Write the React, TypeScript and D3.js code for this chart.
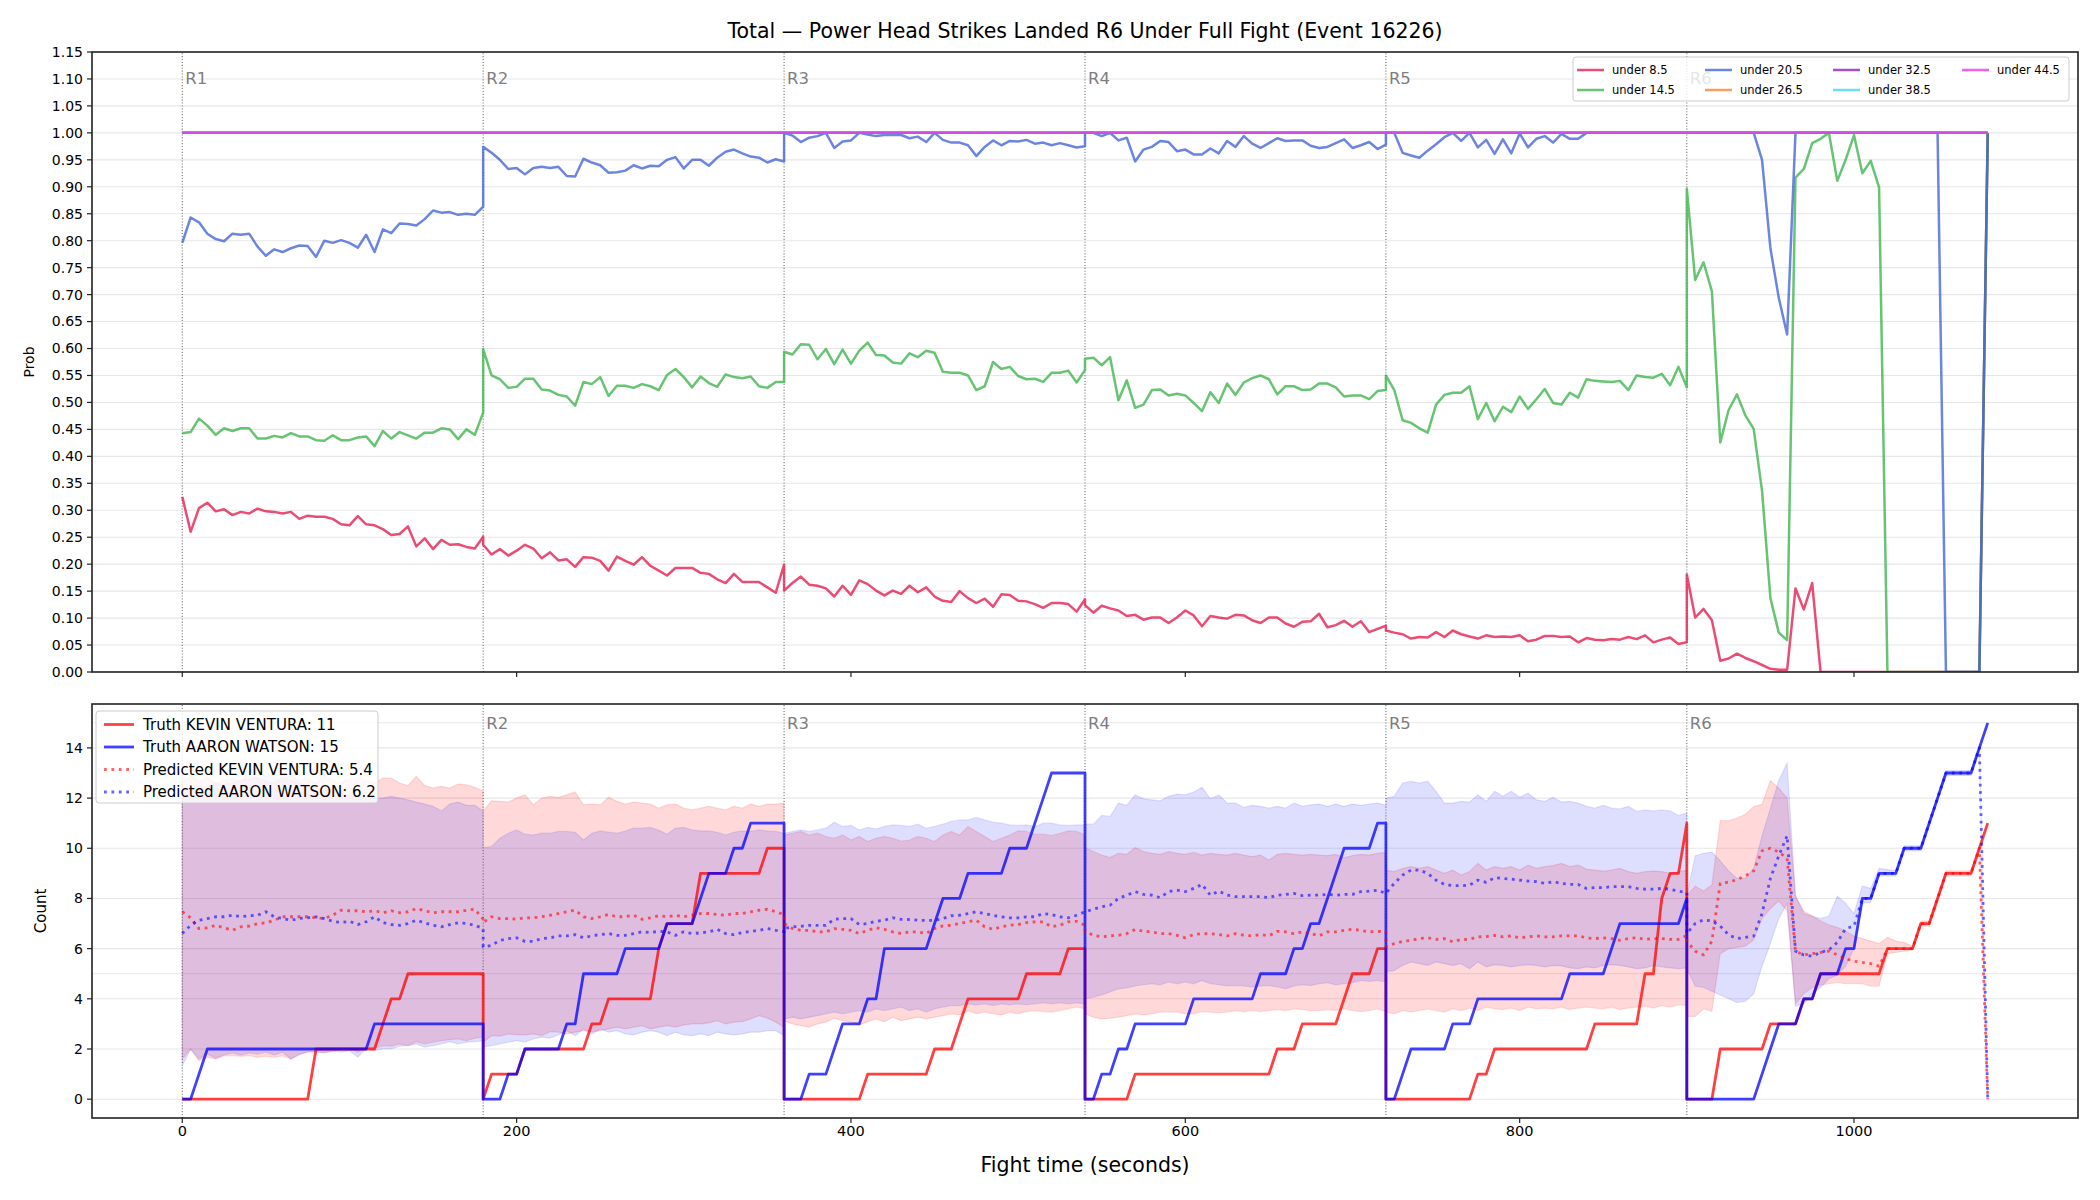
import React, { useEffect, useRef } from 'react';
import * as d3 from 'd3';

const WIDTH = 2100;
const HEIGHT = 1200;
const FONT = "'DejaVu Sans', 'Liberation Sans', sans-serif";

// each round is sampled every 5 s from its start to its end, so round boundaries appear twice
const ROUND_STARTS = [0, 180, 360, 540, 720, 900];
const ROUND_LABELS = ['R1', 'R2', 'R3', 'R4', 'R5', 'R6'];
const times: number[] = ROUND_STARTS.flatMap((s) => d3.range(0, 181, 5).map((o) => s + o));

const TITLE = 'Total \u2014 Power Head Strikes Landed R6 Under Full Fight (Event 16226)';
const X_TICKS = [0, 200, 400, 600, 800, 1000];
const PROB_TICKS = d3.range(0, 24).map((i) => i * 0.05);
const COUNT_TICKS = [0, 2, 4, 6, 8, 10, 12, 14];

const LINE_NAMES = ['under 8.5', 'under 14.5', 'under 20.5', 'under 26.5', 'under 32.5', 'under 38.5', 'under 44.5'];
const LINE_COLORS = ['#e6194b', '#3cb44b', '#4363d8', '#f58231', '#911eb4', '#42d4f4', '#f032e6'];

// P(total under line), rounds 1..6
const under8_5 = [
	0.325, 0.260, 0.304, 0.314, 0.298, 0.302, 0.291, 0.297, 0.294, 0.303, 0.298, 0.297, 0.294, 0.297, 0.284, 0.290, 0.288, 0.288, 0.284, 0.274,
	0.272, 0.289, 0.274, 0.272, 0.265, 0.254, 0.256, 0.270, 0.233, 0.248, 0.228, 0.245, 0.236, 0.237, 0.232, 0.229, 0.251,
	0.236, 0.218, 0.228, 0.216, 0.225, 0.236, 0.229, 0.211, 0.222, 0.207, 0.209, 0.195, 0.213, 0.212, 0.206, 0.188, 0.214, 0.206, 0.199, 0.213,
	0.197, 0.188, 0.179, 0.193, 0.193, 0.193, 0.184, 0.182, 0.172, 0.165, 0.182, 0.167, 0.167, 0.167, 0.157, 0.147, 0.199,
	0.151, 0.165, 0.177, 0.162, 0.160, 0.155, 0.140, 0.160, 0.143, 0.170, 0.163, 0.151, 0.142, 0.151, 0.145, 0.160, 0.148, 0.157, 0.140, 0.132,
	0.130, 0.150, 0.137, 0.128, 0.136, 0.121, 0.144, 0.143, 0.132, 0.131, 0.126, 0.119, 0.128, 0.128, 0.126, 0.112, 0.135,
	0.124, 0.110, 0.123, 0.118, 0.114, 0.104, 0.106, 0.097, 0.101, 0.101, 0.091, 0.101, 0.114, 0.105, 0.085, 0.104, 0.101, 0.099, 0.106, 0.105,
	0.096, 0.091, 0.101, 0.101, 0.090, 0.084, 0.093, 0.094, 0.108, 0.083, 0.087, 0.095, 0.084, 0.094, 0.074, 0.080, 0.086,
	0.077, 0.073, 0.070, 0.062, 0.065, 0.064, 0.074, 0.065, 0.077, 0.070, 0.066, 0.062, 0.068, 0.065, 0.066, 0.065, 0.068, 0.057, 0.060, 0.067,
	0.067, 0.065, 0.066, 0.055, 0.063, 0.060, 0.059, 0.061, 0.060, 0.065, 0.061, 0.068, 0.055, 0.060, 0.064, 0.052, 0.055,
	0.181, 0.101, 0.117, 0.096, 0.021, 0.025, 0.034, 0.026, 0.020, 0.013, 0.006, 0.004, 0.004, 0.155, 0.116, 0.165, 0, 0, 0, 0,
	0, 0, 0, 0, 0, 0, 0, 0, 0, 0, 0, 0, 0, 0, 0, 0, 1,
];
const under14_5 = [
	0.443, 0.445, 0.470, 0.457, 0.440, 0.452, 0.447, 0.452, 0.452, 0.433, 0.433, 0.438, 0.435, 0.443, 0.437, 0.437, 0.430, 0.429, 0.439, 0.430,
	0.430, 0.435, 0.437, 0.419, 0.447, 0.433, 0.445, 0.439, 0.433, 0.444, 0.444, 0.452, 0.450, 0.432, 0.450, 0.440, 0.481,
	0.599, 0.550, 0.543, 0.527, 0.529, 0.544, 0.544, 0.524, 0.522, 0.514, 0.511, 0.494, 0.538, 0.534, 0.547, 0.512, 0.531, 0.531, 0.527, 0.534,
	0.530, 0.523, 0.551, 0.562, 0.547, 0.528, 0.548, 0.536, 0.529, 0.552, 0.547, 0.545, 0.548, 0.530, 0.527, 0.538, 0.538,
	0.594, 0.589, 0.608, 0.607, 0.580, 0.599, 0.571, 0.598, 0.572, 0.596, 0.611, 0.588, 0.587, 0.574, 0.572, 0.591, 0.584, 0.596, 0.592, 0.557,
	0.555, 0.555, 0.550, 0.523, 0.530, 0.575, 0.562, 0.566, 0.549, 0.543, 0.544, 0.538, 0.555, 0.555, 0.559, 0.537, 0.560,
	0.581, 0.583, 0.569, 0.584, 0.504, 0.541, 0.490, 0.496, 0.523, 0.524, 0.513, 0.516, 0.513, 0.499, 0.484, 0.519, 0.499, 0.535, 0.514, 0.537,
	0.545, 0.550, 0.543, 0.515, 0.530, 0.530, 0.523, 0.524, 0.535, 0.535, 0.528, 0.511, 0.513, 0.513, 0.506, 0.521, 0.523,
	0.550, 0.523, 0.467, 0.462, 0.452, 0.444, 0.496, 0.514, 0.518, 0.518, 0.530, 0.469, 0.499, 0.465, 0.492, 0.482, 0.511, 0.488, 0.506, 0.525,
	0.499, 0.496, 0.518, 0.509, 0.543, 0.540, 0.539, 0.538, 0.540, 0.523, 0.550, 0.547, 0.546, 0.553, 0.532, 0.566, 0.528,
	0.896, 0.727, 0.760, 0.706, 0.426, 0.486, 0.515, 0.476, 0.451, 0.336, 0.137, 0.073, 0.059, 0.917, 0.933, 0.981, 0.989, 1.000, 0.911, 0.950,
	0.996, 0.925, 0.948, 0.899, 0, 0, 0, 0, 0, 0, 0, 0, 0, 0, 0, 0, 1,
];
const under20_5 = [
	0.796, 0.843, 0.834, 0.813, 0.803, 0.799, 0.813, 0.811, 0.813, 0.789, 0.772, 0.784, 0.779, 0.786, 0.791, 0.790, 0.770, 0.800, 0.796, 0.801,
	0.796, 0.787, 0.811, 0.779, 0.821, 0.814, 0.832, 0.831, 0.828, 0.840, 0.856, 0.852, 0.853, 0.848, 0.850, 0.848, 0.863,
	0.974, 0.963, 0.950, 0.933, 0.935, 0.923, 0.935, 0.937, 0.935, 0.937, 0.920, 0.919, 0.952, 0.945, 0.940, 0.926, 0.927, 0.930, 0.940, 0.934,
	0.939, 0.938, 0.950, 0.955, 0.934, 0.950, 0.950, 0.939, 0.954, 0.965, 0.969, 0.962, 0.956, 0.954, 0.945, 0.951, 0.947,
	1.000, 0.995, 0.983, 0.991, 0.994, 1.000, 0.972, 0.984, 0.986, 1.000, 0.997, 0.994, 0.996, 0.996, 0.996, 0.990, 0.993, 0.983, 1.000, 0.987,
	0.982, 0.982, 0.977, 0.957, 0.974, 0.986, 0.977, 0.985, 0.984, 0.987, 0.980, 0.982, 0.977, 0.981, 0.977, 0.973, 0.975,
	1.000, 1.000, 0.994, 1.000, 0.986, 0.991, 0.947, 0.969, 0.974, 0.985, 0.983, 0.966, 0.969, 0.960, 0.960, 0.971, 0.962, 0.985, 0.974, 0.994,
	0.980, 0.972, 0.981, 0.990, 0.985, 0.986, 0.986, 0.976, 0.972, 0.974, 0.981, 0.988, 0.972, 0.977, 0.983, 0.970, 0.978,
	1.000, 1.000, 0.963, 0.958, 0.954, 0.967, 0.979, 0.992, 1.000, 0.985, 1.000, 0.973, 0.987, 0.961, 0.988, 0.962, 0.999, 0.973, 0.989, 0.994,
	0.982, 0.998, 0.989, 0.989, 1, 1, 1, 1, 1, 1, 1, 1, 1, 1, 1, 1, 1,
	1, 1, 1, 1, 1, 1, 1, 1, 1, 0.950, 0.786, 0.694, 0.626, 1, 1, 1, 1, 1, 1, 1,
	1, 1, 1, 1, 1, 1, 1, 1, 1, 1, 1, 0, 0, 0, 0, 0, 1,
];
// the higher lines never leave 1.0
const upperLinesLevel = 1.0;

const probSeries = [under8_5, under14_5, under20_5, ...[0, 1, 2, 3].map(() => times.map(() => upperLinesLevel))];

// truth counts
const truthKevin = [
	0, 0, 0, 0, 0, 0, 0, 0, 0, 0, 0, 0, 0, 0, 0, 0, 2, 2, 2, 2, 2, 2, 2, 2, 3, 4, 4, 5, 5, 5, 5, 5, 5, 5, 5, 5, 5,
	0, 1, 1, 1, 1, 2, 2, 2, 2, 2, 2, 2, 2, 3, 3, 4, 4, 4, 4, 4, 4, 6, 7, 7, 7, 7, 9, 9, 9, 9, 9, 9, 9, 9, 10, 10, 10,
	0, 0, 0, 0, 0, 0, 0, 0, 0, 0, 1, 1, 1, 1, 1, 1, 1, 1, 2, 2, 2, 3, 4, 4, 4, 4, 4, 4, 4, 5, 5, 5, 5, 5, 6, 6, 6,
	0, 0, 0, 0, 0, 0, 1, 1, 1, 1, 1, 1, 1, 1, 1, 1, 1, 1, 1, 1, 1, 1, 1, 2, 2, 2, 3, 3, 3, 3, 3, 4, 5, 5, 5, 6, 6,
	0, 0, 0, 0, 0, 0, 0, 0, 0, 0, 0, 1, 1, 2, 2, 2, 2, 2, 2, 2, 2, 2, 2, 2, 2, 3, 3, 3, 3, 3, 3, 5, 5, 8, 9, 9, 11,
	0, 0, 0, 0, 2, 2, 2, 2, 2, 2, 3, 3, 3, 3, 4, 4, 5, 5, 5, 5, 5, 5, 5, 5, 6, 6, 6, 6, 7, 7, 8, 9, 9, 9, 9, 10, 11,
];
const truthAaron = [
	0, 0, 1, 2, 2, 2, 2, 2, 2, 2, 2, 2, 2, 2, 2, 2, 2, 2, 2, 2, 2, 2, 2, 3, 3, 3, 3, 3, 3, 3, 3, 3, 3, 3, 3, 3, 3,
	0, 0, 0, 1, 1, 2, 2, 2, 2, 2, 3, 3, 5, 5, 5, 5, 5, 6, 6, 6, 6, 6, 7, 7, 7, 7, 8, 9, 9, 9, 10, 10, 11, 11, 11, 11, 11,
	0, 0, 0, 1, 1, 1, 2, 3, 3, 3, 4, 4, 6, 6, 6, 6, 6, 6, 7, 8, 8, 8, 9, 9, 9, 9, 9, 10, 10, 10, 11, 12, 13, 13, 13, 13, 13,
	0, 0, 1, 1, 2, 2, 3, 3, 3, 3, 3, 3, 3, 4, 4, 4, 4, 4, 4, 4, 4, 5, 5, 5, 5, 6, 6, 7, 7, 8, 9, 10, 10, 10, 10, 11, 11,
	0, 0, 1, 2, 2, 2, 2, 2, 3, 3, 3, 4, 4, 4, 4, 4, 4, 4, 4, 4, 4, 4, 5, 5, 5, 5, 5, 6, 7, 7, 7, 7, 7, 7, 7, 7, 8,
	0, 0, 0, 0, 0, 0, 0, 0, 0, 1, 2, 3, 3, 3, 4, 4, 5, 5, 5, 6, 6, 8, 8, 9, 9, 9, 10, 10, 10, 11, 12, 13, 13, 13, 13, 14, 15,
];

// predicted totals (mean) and their bands
const predKevin = [
	7.47, 7.23, 6.80, 6.83, 6.93, 6.83, 6.73, 6.87, 6.90, 6.99, 7.03, 7.13, 7.27, 7.27, 7.27, 7.27, 7.23, 7.20, 7.33, 7.53,
	7.51, 7.51, 7.47, 7.51, 7.43, 7.51, 7.43, 7.47, 7.60, 7.51, 7.43, 7.47, 7.47, 7.47, 7.53, 7.57, 7.17,
	7.04, 7.27, 7.20, 7.20, 7.17, 7.23, 7.23, 7.27, 7.33, 7.40, 7.47, 7.53, 7.27, 7.20, 7.27, 7.36, 7.27, 7.27, 7.33, 7.17,
	7.23, 7.31, 7.27, 7.33, 7.27, 7.33, 7.40, 7.40, 7.36, 7.33, 7.40, 7.40, 7.47, 7.53, 7.57, 7.47, 7.36,
	7.00, 6.80, 6.73, 6.73, 6.67, 6.67, 6.80, 6.77, 6.73, 6.60, 6.73, 6.83, 6.77, 6.67, 6.60, 6.67, 6.67, 6.60, 6.80, 6.91,
	6.93, 7.00, 7.07, 7.13, 6.87, 6.77, 6.87, 6.93, 6.96, 7.04, 7.07, 7.07, 6.87, 6.93, 7.07, 7.09, 6.93,
	6.69, 6.53, 6.47, 6.51, 6.53, 6.60, 6.77, 6.69, 6.67, 6.60, 6.60, 6.53, 6.43, 6.56, 6.60, 6.59, 6.56, 6.51, 6.60, 6.53,
	6.51, 6.56, 6.51, 6.69, 6.67, 6.60, 6.67, 6.60, 6.51, 6.67, 6.67, 6.73, 6.77, 6.73, 6.67, 6.69, 6.67,
	6.07, 6.20, 6.29, 6.33, 6.40, 6.43, 6.37, 6.40, 6.27, 6.37, 6.37, 6.47, 6.48, 6.53, 6.47, 6.51, 6.43, 6.47, 6.51, 6.47,
	6.47, 6.51, 6.51, 6.51, 6.43, 6.40, 6.43, 6.40, 6.33, 6.40, 6.43, 6.37, 6.40, 6.40, 6.37, 6.37, 6.53,
	6.30, 5.90, 5.75, 6.30, 8.60, 8.65, 8.75, 8.90, 9.10, 9.90, 10.00, 9.85, 9.60, 5.90, 5.75, 5.80, 5.85, 5.90, 5.75, 5.60,
	5.50, 5.45, 5.40, 5.30, 6.00, 6.00, 6.00, 6.00, 7.00, 7.00, 8.00, 9.00, 9.00, 9.00, 9.00, 10.00, 0,
];
const predAaron = [
	6.60, 6.93, 7.13, 7.20, 7.27, 7.27, 7.33, 7.27, 7.31, 7.33, 7.47, 7.27, 7.20, 7.13, 7.20, 7.23, 7.27, 7.20, 7.09, 7.04,
	7.09, 6.96, 7.07, 7.27, 7.04, 6.96, 6.93, 7.00, 7.13, 7.03, 6.93, 6.87, 6.96, 7.03, 7.00, 6.93, 6.80,
	6.07, 6.13, 6.33, 6.40, 6.43, 6.29, 6.29, 6.40, 6.43, 6.51, 6.51, 6.56, 6.43, 6.51, 6.56, 6.60, 6.53, 6.53, 6.60, 6.67,
	6.64, 6.69, 6.67, 6.53, 6.67, 6.60, 6.63, 6.67, 6.77, 6.60, 6.56, 6.64, 6.69, 6.73, 6.80, 6.73, 6.67,
	6.80, 6.87, 6.89, 6.93, 6.93, 6.93, 7.17, 7.20, 7.20, 6.96, 7.00, 7.09, 7.13, 7.23, 7.17, 7.16, 7.13, 7.13, 7.13, 7.20,
	7.31, 7.33, 7.40, 7.47, 7.40, 7.33, 7.27, 7.23, 7.23, 7.27, 7.27, 7.40, 7.36, 7.27, 7.23, 7.33, 7.47,
	7.47, 7.57, 7.67, 7.73, 8.00, 8.13, 8.27, 8.16, 8.13, 8.03, 8.27, 8.33, 8.27, 8.40, 8.56, 8.13, 8.29, 8.13, 8.07, 8.07,
	8.07, 8.07, 8.03, 8.13, 8.16, 8.20, 8.11, 8.13, 8.13, 8.16, 8.13, 8.16, 8.16, 8.27, 8.29, 8.33, 8.20,
	8.20, 8.60, 8.93, 9.13, 9.13, 9.00, 8.73, 8.56, 8.51, 8.51, 8.53, 8.73, 8.64, 8.83, 8.80, 8.77, 8.73, 8.69, 8.67, 8.60,
	8.67, 8.60, 8.56, 8.56, 8.40, 8.43, 8.43, 8.47, 8.47, 8.47, 8.40, 8.37, 8.37, 8.40, 8.37, 8.29, 8.24,
	6.60, 7.00, 7.15, 7.10, 6.90, 6.55, 6.40, 6.45, 6.50, 7.40, 8.80, 9.70, 10.50, 5.90, 5.75, 5.70, 5.85, 5.95, 6.25, 6.80,
	6.90, 8.00, 8.00, 9.00, 9.00, 9.00, 10.00, 10.00, 10.00, 11.00, 12.00, 13.00, 13.00, 13.00, 13.00, 14.00, 0,
];
const kevinHi = [
	12.60, 12.90, 12.70, 12.80, 12.60, 12.70, 12.80, 12.70, 12.90, 12.80, 12.70, 12.60, 12.80, 12.90, 12.70, 12.80, 12.60, 12.90, 12.70, 12.60,
	12.80, 12.80, 12.70, 12.60, 12.80, 12.80, 12.60, 12.50, 12.87, 12.50, 12.40, 12.47, 12.40, 12.56, 12.53, 12.43, 12.27,
	11.49, 11.89, 11.87, 11.84, 12.00, 12.13, 11.73, 12.00, 12.07, 12.03, 12.13, 12.24, 11.73, 11.76, 11.73, 12.03, 11.87, 11.76, 11.84, 11.80,
	11.76, 11.60, 11.73, 11.76, 11.60, 11.53, 11.60, 11.67, 11.60, 11.53, 11.67, 11.60, 11.76, 11.67, 11.76, 11.76, 11.80,
	10.53, 10.60, 10.67, 10.53, 10.60, 10.47, 10.40, 10.53, 10.33, 10.47, 10.27, 10.40, 10.47, 10.40, 10.29, 10.33, 10.47, 10.40, 10.27, 10.53,
	10.67, 10.53, 10.87, 10.67, 10.47, 10.27, 10.40, 10.53, 10.69, 10.67, 10.56, 10.56, 10.51, 10.60, 10.69, 10.67, 10.53,
	10.03, 9.87, 9.73, 9.63, 9.80, 9.76, 10.03, 9.87, 9.80, 9.76, 9.87, 9.80, 9.76, 9.84, 9.73, 9.80, 9.76, 9.73, 9.80, 9.73,
	9.67, 9.73, 9.53, 9.76, 9.80, 9.76, 9.73, 9.76, 9.73, 9.71, 9.76, 9.63, 9.71, 9.76, 9.73, 9.80, 9.84,
	9.13, 9.07, 9.20, 9.27, 9.20, 9.27, 9.13, 9.00, 9.13, 8.93, 9.07, 9.40, 9.13, 9.27, 9.20, 9.27, 9.13, 9.33, 9.20, 9.27,
	9.31, 9.40, 9.27, 9.33, 9.17, 9.13, 9.09, 9.13, 9.20, 9.07, 9.00, 9.07, 9.09, 9.07, 9.00, 9.07, 9.13,
	8.10, 8.50, 8.30, 8.55, 11.10, 11.10, 11.20, 11.35, 11.65, 11.75, 12.70, 12.40, 12.00, 8.10, 7.50, 7.30, 7.10, 6.95, 6.85, 6.70,
	6.50, 6.40, 6.30, 6.20, 6.45, 6.30, 6.25, 6.10, 7.10, 7.10, 8.10, 9.10, 9.10, 9.10, 9.10, 10.10, 0,
];
const kevinLo = [
	1.60, 2.00, 1.53, 1.67, 1.60, 1.73, 1.73, 1.71, 1.73, 1.67, 1.71, 1.67, 1.73, 1.60, 1.80, 1.87, 1.87, 1.87, 1.89, 2.00,
	2.03, 1.87, 2.07, 2.03, 2.13, 2.11, 2.20, 2.13, 2.29, 2.20, 2.27, 2.33, 2.37, 2.40, 2.33, 2.43, 2.47,
	2.27, 2.53, 2.51, 2.60, 2.56, 2.56, 2.60, 2.53, 2.69, 2.67, 2.60, 2.67, 2.73, 2.69, 2.73, 2.80, 2.87, 2.80, 2.87, 2.93,
	2.80, 2.87, 2.93, 2.87, 2.96, 3.00, 3.00, 3.04, 3.13, 3.00, 3.07, 3.09, 3.20, 3.33, 3.23, 3.07, 2.87,
	3.13, 3.00, 2.93, 2.87, 3.00, 3.07, 3.23, 3.13, 3.07, 2.96, 3.09, 3.20, 3.09, 3.27, 3.13, 3.20, 3.27, 3.20, 3.27, 3.33,
	3.40, 3.36, 3.53, 3.40, 3.47, 3.40, 3.36, 3.47, 3.40, 3.49, 3.53, 3.49, 3.47, 3.53, 3.60, 3.67, 3.60,
	3.40, 3.27, 3.20, 3.23, 3.27, 3.33, 3.40, 3.36, 3.40, 3.47, 3.49, 3.47, 3.40, 3.40, 3.49, 3.47, 3.44, 3.47, 3.53, 3.49,
	3.53, 3.49, 3.53, 3.57, 3.53, 3.60, 3.57, 3.53, 3.53, 3.57, 3.53, 3.60, 3.53, 3.49, 3.53, 3.60, 3.49,
	3.47, 3.40, 3.53, 3.47, 3.53, 3.60, 3.53, 3.47, 3.60, 3.53, 3.63, 3.53, 3.67, 3.60, 3.57, 3.63, 3.53, 3.67, 3.60, 3.63,
	3.60, 3.67, 3.57, 3.63, 3.67, 3.63, 3.60, 3.67, 3.57, 3.63, 3.67, 3.71, 3.63, 3.73, 3.67, 3.76, 3.73,
	3.30, 3.30, 3.60, 3.50, 5.80, 6.00, 6.05, 6.10, 6.35, 7.20, 7.60, 7.90, 7.50, 3.80, 4.20, 4.45, 4.55, 4.60, 4.65, 4.60,
	4.60, 4.60, 4.50, 4.50, 5.80, 5.85, 5.90, 5.95, 6.90, 6.90, 7.90, 8.90, 8.90, 8.90, 8.90, 9.90, 0,
];
const aaronHi = [
	12.30, 12.40, 12.50, 12.45, 12.60, 12.50, 12.60, 12.70, 12.75, 12.80, 12.90, 13.00, 12.85, 12.70, 12.60, 12.50, 12.40, 12.30, 12.30, 12.20,
	12.10, 12.05, 12.00, 12.00, 12.00, 12.07, 12.00, 11.93, 11.84, 11.76, 11.67, 11.49, 11.76, 11.84, 11.71, 11.71, 11.49,
	10.03, 10.07, 10.40, 10.60, 10.73, 10.56, 10.53, 10.60, 10.60, 10.67, 10.67, 10.64, 10.33, 10.60, 10.69, 10.64, 10.60, 10.69, 10.80, 10.80,
	10.83, 10.73, 10.56, 10.80, 10.83, 10.73, 10.69, 10.69, 10.64, 10.53, 10.64, 10.69, 10.67, 10.73, 10.69, 10.67, 10.60,
	10.60, 10.67, 10.73, 10.67, 10.73, 10.80, 11.04, 10.87, 10.91, 10.73, 10.83, 10.77, 10.87, 10.93, 10.91, 10.87, 10.96, 10.80, 10.87, 10.96,
	11.07, 11.13, 11.13, 11.23, 11.13, 11.04, 11.00, 10.93, 10.91, 10.93, 10.87, 11.00, 11.00, 10.93, 10.91, 10.93, 10.93,
	10.96, 10.96, 11.31, 11.27, 11.80, 11.71, 12.13, 11.97, 11.93, 11.89, 12.07, 12.16, 12.13, 12.24, 12.43, 11.97, 12.13, 11.80, 11.80, 11.63,
	11.71, 11.67, 11.60, 11.67, 11.60, 11.80, 11.67, 11.73, 11.76, 11.67, 11.76, 11.67, 11.76, 11.71, 11.76, 11.80, 11.71,
	12.00, 12.07, 12.60, 12.67, 12.60, 12.67, 12.27, 11.80, 11.80, 11.87, 11.84, 12.13, 11.87, 12.27, 12.07, 12.27, 12.03, 12.20, 11.93, 11.87,
	12.03, 11.84, 11.87, 11.80, 11.67, 11.60, 11.71, 11.60, 11.57, 11.67, 11.47, 11.53, 11.49, 11.53, 11.49, 11.31, 11.40,
	8.10, 9.70, 9.80, 9.85, 9.50, 9.10, 8.80, 8.80, 9.20, 10.50, 11.60, 12.70, 13.40, 8.10, 7.40, 7.30, 7.20, 7.30, 8.10, 7.80,
	7.40, 8.50, 8.40, 9.20, 9.15, 9.10, 10.10, 10.10, 10.10, 11.10, 12.10, 13.10, 13.10, 13.10, 13.10, 14.10, 0,
];
const aaronLo = [
	1.33, 2.00, 1.60, 1.80, 1.63, 1.76, 1.84, 1.76, 1.84, 1.80, 1.87, 1.76, 1.87, 1.60, 1.76, 1.89, 1.89, 1.84, 1.93, 1.87,
	1.93, 1.67, 2.03, 1.93, 2.00, 2.00, 2.11, 2.13, 2.20, 2.07, 2.13, 2.20, 2.29, 2.20, 2.27, 2.29, 2.33,
	2.07, 2.13, 2.20, 2.27, 2.33, 2.27, 2.40, 2.47, 2.43, 2.56, 2.73, 2.53, 2.80, 2.60, 2.80, 2.67, 2.73, 2.60, 2.56, 2.67,
	2.73, 2.67, 2.53, 2.67, 2.56, 2.53, 2.60, 2.53, 2.67, 2.60, 2.56, 2.60, 2.67, 2.67, 2.73, 2.73, 2.53,
	3.20, 3.27, 3.20, 3.27, 3.33, 3.40, 3.47, 3.40, 3.47, 3.53, 3.47, 3.60, 3.53, 3.60, 3.67, 3.53, 3.60, 3.47, 3.60, 3.67,
	3.73, 3.73, 3.80, 3.76, 3.80, 3.73, 3.80, 3.76, 3.80, 3.76, 3.80, 3.84, 3.80, 3.84, 3.80, 3.84, 3.80,
	4.00, 4.07, 4.16, 4.27, 4.40, 4.43, 4.51, 4.56, 4.60, 4.56, 4.67, 4.60, 4.67, 4.60, 4.73, 4.60, 4.56, 4.51, 4.53, 4.51,
	4.47, 4.51, 4.53, 4.47, 4.40, 4.51, 4.56, 4.53, 4.60, 4.64, 4.56, 4.60, 4.64, 4.73, 4.69, 4.73, 4.67,
	5.07, 5.13, 5.33, 5.47, 5.40, 5.33, 5.47, 5.40, 5.33, 5.40, 5.20, 5.47, 5.27, 5.36, 5.33, 5.27, 5.33, 5.36, 5.33, 5.27,
	5.33, 5.31, 5.23, 5.20, 5.27, 5.23, 5.33, 5.36, 5.33, 5.27, 5.20, 5.23, 5.33, 5.27, 5.23, 5.20, 5.23,
	5.20, 4.50, 4.45, 4.30, 4.15, 4.00, 3.85, 3.90, 4.20, 5.30, 6.20, 7.20, 7.80, 3.70, 3.80, 4.20, 4.45, 4.80, 4.95, 5.30,
	6.00, 7.80, 7.85, 8.90, 8.90, 8.90, 9.90, 9.90, 9.90, 10.90, 11.90, 12.90, 12.90, 12.90, 12.90, 13.90, 0,
];

const COUNT_LEGEND = [
	{ label: 'Truth KEVIN VENTURA: 11', color: 'red', dotted: false },
	{ label: 'Truth AARON WATSON: 15', color: 'blue', dotted: false },
	{ label: 'Predicted KEVIN VENTURA: 5.4', color: 'red', dotted: true },
	{ label: 'Predicted AARON WATSON: 6.2', color: 'blue', dotted: true },
];

const App: React.FC = () => {
	const ref = useRef<SVGSVGElement>(null);

	useEffect(() => {
		const svg = d3.select(ref.current);
		svg.selectAll('*').remove();

		const left = 92;
		const right = 2078;
		const top1 = 52;
		const bottom1 = 672;
		const top2 = 704;
		const bottom2 = 1118;

		const x = d3.scaleLinear().domain([-54, 1134]).range([left, right]);
		const yProb = d3.scaleLinear().domain([0, 1.15]).range([bottom1, top1]);
		const yCount = d3.scaleLinear().domain([-0.75, 15.75]).range([bottom2, top2]);

		svg.append('text')
			.attr('x', (left + right) / 2)
			.attr('y', 38)
			.attr('text-anchor', 'middle')
			.style('font-family', FONT)
			.style('font-size', '20.5px')
			.text(TITLE);

		function panel(top: number, bottom: number, clipId: string) {
			const g = svg.append('g');
			g.append('clipPath')
				.attr('id', clipId)
				.append('rect')
				.attr('x', left)
				.attr('y', top)
				.attr('width', right - left)
				.attr('height', bottom - top);
			const plot = g.append('g').attr('clip-path', `url(#${clipId})`);
			return { g, plot };
		}

		function frame(g: any, yScale: d3.ScaleLinear<number, number>, top: number, bottom: number, yTicks: number[], fmt: (d: number) => string, xLabels: boolean) {
			g.append('rect')
				.attr('x', left)
				.attr('y', top)
				.attr('width', right - left)
				.attr('height', bottom - top)
				.attr('fill', 'none')
				.attr('stroke', '#222')
				.attr('stroke-width', 1.6);
			yTicks.forEach((t) => {
				g.append('line')
					.attr('x1', left - 5)
					.attr('x2', left)
					.attr('y1', yScale(t))
					.attr('y2', yScale(t))
					.attr('stroke', '#222')
					.attr('stroke-width', 1.2);
				g.append('text')
					.attr('x', left - 9)
					.attr('y', yScale(t))
					.attr('dy', '0.35em')
					.attr('text-anchor', 'end')
					.style('font-family', FONT)
					.style('font-size', '14px')
					.text(fmt(t));
			});
			X_TICKS.forEach((t) => {
				g.append('line')
					.attr('x1', x(t))
					.attr('x2', x(t))
					.attr('y1', bottom)
					.attr('y2', bottom + 5)
					.attr('stroke', '#222')
					.attr('stroke-width', 1.2);
				if (xLabels) {
					g.append('text')
						.attr('x', x(t))
						.attr('y', bottom + 8)
						.attr('dy', '0.71em')
						.attr('text-anchor', 'middle')
						.style('font-family', FONT)
						.style('font-size', '14.5px')
						.text(String(t));
				}
			});
		}

		function grid(plot: any, yScale: d3.ScaleLinear<number, number>, values: number[]) {
			plot.selectAll(null)
				.data(values)
				.enter()
				.append('line')
				.attr('x1', left)
				.attr('x2', right)
				.attr('y1', (d: number) => yScale(d))
				.attr('y2', (d: number) => yScale(d))
				.attr('stroke', '#b0b0b0')
				.attr('stroke-opacity', 0.3)
				.attr('stroke-width', 1.1);
		}

		// dotted round separators; skipLabel hides a label that sits under a legend
		function rounds(plot: any, yScale: d3.ScaleLinear<number, number>, yTop: number, skipLabel: number) {
			ROUND_STARTS.forEach((s, i) => {
				plot.append('line')
					.attr('x1', x(s))
					.attr('x2', x(s))
					.attr('y1', yScale.range()[0])
					.attr('y2', yScale.range()[1])
					.attr('stroke', '#555')
					.attr('stroke-opacity', 0.8)
					.attr('stroke-width', 1.1)
					.attr('stroke-dasharray', '1.1 1.8');
				if (i === skipLabel) return;
				plot.append('text')
					.attr('x', x(s) + 3)
					.attr('y', yScale(yTop))
					.attr('dy', '0.8em')
					.style('font-family', FONT)
					.style('font-size', '16.5px')
					.attr('fill', '#666')
					.attr('fill-opacity', 0.85)
					.text(ROUND_LABELS[i]);
			});
		}

		// ---- probability panel ----
		const p1 = panel(top1, bottom1, 'clipProb');
		grid(p1.plot, yProb, PROB_TICKS);
		rounds(p1.plot, yProb, 1.15 * 0.97, -1);

		const probLine = d3.line<number>()
			.x((_, i) => x(times[i]))
			.y((d) => yProb(d));
		probSeries.forEach((s, i) => {
			p1.plot.append('path')
				.attr('d', probLine(s))
				.attr('fill', 'none')
				.attr('stroke', LINE_COLORS[i])
				.attr('stroke-opacity', 0.78)
				.attr('stroke-width', 2.5)
				.attr('stroke-linejoin', 'round');
		});
		frame(p1.g, yProb, top1, bottom1, PROB_TICKS, d3.format('.2f'), false);

		// legend, 4 columns filled column first
		const lg = p1.g.append('g');
		lg.append('rect')
			.attr('x', 1573)
			.attr('y', 57)
			.attr('width', 496)
			.attr('height', 44)
			.attr('rx', 3)
			.attr('fill', 'white')
			.attr('fill-opacity', 0.8)
			.attr('stroke', '#cccccc');
		const colX = [1577, 1705, 1833, 1962];
		const rowY = [70, 90];
		LINE_NAMES.forEach((name, i) => {
			const cx = colX[Math.floor(i / 2)];
			const cy = rowY[i % 2];
			lg.append('line')
				.attr('x1', cx)
				.attr('x2', cx + 27)
				.attr('y1', cy)
				.attr('y2', cy)
				.attr('stroke', LINE_COLORS[i])
				.attr('stroke-opacity', 0.78)
				.attr('stroke-width', 2.5);
			lg.append('text')
				.attr('x', cx + 35)
				.attr('y', cy)
				.attr('dy', '0.35em')
				.style('font-family', FONT)
				.style('font-size', '11.5px')
				.text(name);
		});

		svg.append('text')
			.attr('transform', `translate(29,${(top1 + bottom1) / 2}) rotate(-90)`)
			.attr('text-anchor', 'middle')
			.attr('dy', '0.35em')
			.style('font-family', FONT)
			.style('font-size', '14px')
			.text('Prob');

		// ---- count panel ----
		const p2 = panel(top2, bottom2, 'clipCount');
		grid(p2.plot, yCount, [...COUNT_TICKS, 5, 15]);

		const band = (lo: number[], hi: number[]) =>
			d3.area<number>()
				.x((_, i) => x(times[i]))
				.y0((_, i) => yCount(lo[i]))
				.y1((_, i) => yCount(hi[i]))(times);
		p2.plot.append('path')
			.attr('d', band(kevinLo, kevinHi))
			.attr('fill', 'red')
			.attr('fill-opacity', 0.15)
			.attr('stroke', 'red')
			.attr('stroke-opacity', 0.12)
			.attr('stroke-width', 1.2);
		p2.plot.append('path')
			.attr('d', band(aaronLo, aaronHi))
			.attr('fill', 'blue')
			.attr('fill-opacity', 0.13)
			.attr('stroke', 'blue')
			.attr('stroke-opacity', 0.1)
			.attr('stroke-width', 1.2);

		rounds(p2.plot, yCount, 15.75 * 0.97, 0);

		const countLine = d3.line<number>()
			.x((_, i) => x(times[i]))
			.y((d) => yCount(d));
		[
			{ data: truthKevin, color: 'red', dotted: false },
			{ data: truthAaron, color: 'blue', dotted: false },
			{ data: predKevin, color: 'red', dotted: true },
			{ data: predAaron, color: 'blue', dotted: true },
		].forEach((s) => {
			p2.plot.append('path')
				.attr('d', countLine(s.data))
				.attr('fill', 'none')
				.attr('stroke', s.color)
				.attr('stroke-opacity', s.dotted ? 0.6 : 0.75)
				.attr('stroke-width', 2.8)
				.attr('stroke-dasharray', s.dotted ? '2.8 4.6' : null)
				.attr('stroke-linejoin', 'round');
		});
		frame(p2.g, yCount, top2, bottom2, COUNT_TICKS, (d) => String(d), true);

		const lg2 = p2.g.append('g');
		lg2.append('rect')
			.attr('x', 96)
			.attr('y', 711)
			.attr('width', 282)
			.attr('height', 92)
			.attr('rx', 3)
			.attr('fill', 'white')
			.attr('fill-opacity', 0.8)
			.attr('stroke', '#cccccc');
		COUNT_LEGEND.forEach((e, i) => {
			const cy = 724.5 + i * 22.5;
			lg2.append('line')
				.attr('x1', 104)
				.attr('x2', 134)
				.attr('y1', cy)
				.attr('y2', cy)
				.attr('stroke', e.color)
				.attr('stroke-opacity', e.dotted ? 0.6 : 0.75)
				.attr('stroke-width', 2.8)
				.attr('stroke-dasharray', e.dotted ? '2.8 4.6' : null);
			lg2.append('text')
				.attr('x', 143)
				.attr('y', cy)
				.attr('dy', '0.35em')
				.style('font-family', FONT)
				.style('font-size', '15px')
				.text(e.label);
		});

		svg.append('text')
			.attr('transform', `translate(41,${(top2 + bottom2) / 2}) rotate(-90)`)
			.attr('text-anchor', 'middle')
			.attr('dy', '0.35em')
			.style('font-family', FONT)
			.style('font-size', '15px')
			.text('Count');

		svg.append('text')
			.attr('x', (left + right) / 2)
			.attr('y', 1172)
			.attr('text-anchor', 'middle')
			.style('font-family', FONT)
			.style('font-size', '20.5px')
			.text('Fight time (seconds)');
	}, []);

	return (
		<svg
			ref={ref}
			width={WIDTH}
			height={HEIGHT}
			style={{ position: 'absolute', left: 0, top: 0, background: 'white' }}
		/>
	);
};

export default App;
